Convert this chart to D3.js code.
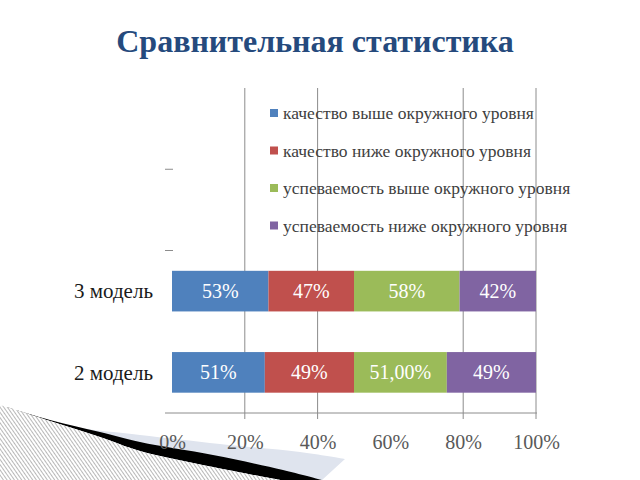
<!DOCTYPE html>
<html><head><meta charset="utf-8">
<script src="https://cdn.jsdelivr.net/npm/d3@7"></script>
<style>body{margin:0;background:#fff}svg{display:block}</style>
</head><body>
<svg id="chart" width="640" height="480"></svg>
<script>
const title = "Сравнительная статистика";
const categories = ["3 модель", "2 модель"];
const emptyCategories = ["", " "];
const seriesNames = ["качество выше окружного уровня", "качество ниже окружного уровня", "успеваемость выше окружного уровня", "успеваемость ниже окружного уровня"];
const qualityAbove = [53, 51];
const qualityBelow = [47, 49];
const progressAbove = [58, 51];
const progressBelow = [42, 49];
const dataLabels = [["53%", "51%"], ["47%", "49%"], ["58%", "51,00%"], ["42%", "49%"]];
const gridTicks = [0.2, 0.4, 0.8, 1.0];
const tickLabels = [0, 0.2, 0.4, 0.6, 0.8, 1.0];
const colors = ["#4F81BD", "#C0504D", "#9BBB59", "#8064A2"];

const seriesValues = [qualityAbove, qualityBelow, progressAbove, progressBelow];
const keys = ["s0", "s1", "s2", "s3"];
const rows = categories.map((c, i) => { const r = {cat: c}; keys.forEach((k, j) => r[k] = seriesValues[j][i]); return r; });
const stacked = d3.stack().keys(keys).offset(d3.stackOffsetExpand)(rows);

const svg = d3.select("#chart");
const serif = "Liberation Serif, Times New Roman, serif";

// decorative swoosh bottom-left (slide decoration)
const pat = svg.append("defs").append("pattern").attr("id", "hatch").attr("width", 3).attr("height", 3)
  .attr("patternUnits", "userSpaceOnUse").attr("patternTransform", "rotate(-35)");
pat.append("rect").attr("width", 3).attr("height", 3).attr("fill", "#fff");
pat.append("line").attr("x1", 0.5).attr("y1", 0).attr("x2", 0.5).attr("y2", 3).attr("stroke", "#b8b8b8").attr("stroke-width", 1);
const curve = d3.line().curve(d3.curveCatmullRom);
const blackTop = [[0,405],[50,420],[100,432],[140,442],[213,455],[283,470],[322,480]];
const hatchTop = [[0,405],[50,421],[100,437],[140,451],[213,467],[280,480]];
const lightTop = [[85,429],[140,435],[220,444],[300,452],[345,459]];
svg.append("path").attr("d", curve(lightTop) + "L322,480L100,480Z").attr("fill", "#dfe4ee");
svg.append("path").attr("d", curve(blackTop) + "L" + curve(hatchTop.slice().reverse()).slice(1) + "Z").attr("fill", "#000");
svg.append("path").attr("d", curve(hatchTop) + "L0,480Z").attr("fill", "url(#hatch)");

// title
svg.append("text").attr("x", 315).attr("y", 52).attr("text-anchor", "middle")
  .style("font-family", serif).attr("font-weight", "bold").attr("font-size", 32).attr("fill", "#254a7d").text(title);

const x = d3.scaleLinear().domain([0, 1]).range([172, 536]);
const y = d3.scaleBand().domain([...emptyCategories, ...categories]).range([88, 413]).paddingInner(0.5).paddingOuter(0.25);

// gridlines
svg.append("g").selectAll("line").data(gridTicks).join("line")
  .attr("x1", d => x(d)).attr("x2", d => x(d)).attr("y1", 88).attr("y2", 419)
  .attr("stroke", "#8c8c8c").attr("stroke-width", 1);

// category boundary ticks
const step = y.step();
svg.append("g").selectAll("line").data([1, 2]).join("line")
  .attr("x1", 165).attr("x2", 173).attr("y1", d => 88 + d * step).attr("y2", d => 88 + d * step)
  .attr("stroke", "#8c8c8c").attr("stroke-width", 1);

// x axis
const xAxis = svg.append("g").attr("transform", "translate(0,413)")
  .call(d3.axisBottom(x).tickValues(tickLabels).tickFormat(d3.format(".0%")).tickSize(0).tickPadding(22));
xAxis.select(".domain").remove();
xAxis.append("line").attr("x1", 165).attr("x2", 537).attr("y1", 0).attr("y2", 0).attr("stroke", "#8c8c8c");
xAxis.selectAll("text").style("font-family", serif).attr("font-size", 20).attr("fill", "#595959").attr("dy", "0.35em").attr("y", 29);

// bars
const g = svg.append("g");
stacked.forEach((s, si) => {
  g.append("g").selectAll("rect").data(s).join("rect")
    .attr("x", d => x(d[0])).attr("width", d => x(d[1]) - x(d[0]))
    .attr("y", d => y(d.data.cat)).attr("height", y.bandwidth())
    .attr("fill", colors[si]);
  g.append("g").selectAll("text").data(s).join("text")
    .attr("x", d => (x(d[0]) + x(d[1])) / 2).attr("y", d => y(d.data.cat) + y.bandwidth() / 2)
    .attr("dy", "0.35em").attr("text-anchor", "middle")
    .style("font-family", serif).attr("font-size", 20).attr("fill", "#fff")
    .text((d, i) => dataLabels[si][i]);
});

// category labels
svg.append("g").selectAll("text").data(categories).join("text")
  .attr("x", 153).attr("y", d => y(d) + y.bandwidth() / 2).attr("dy", "0.35em").attr("text-anchor", "end")
  .style("font-family", serif).attr("font-size", 21).attr("fill", "#1a1a1a").text(d => d);

// legend
const leg = svg.append("g").selectAll("g").data(seriesNames).join("g")
  .attr("transform", (d, i) => `translate(270,${113 + i * 37.5})`);
leg.append("rect").attr("x", 0).attr("y", -4).attr("width", 8).attr("height", 8).attr("fill", (d, i) => colors[i]);
leg.append("text").attr("x", 13).attr("y", 0).attr("dy", "0.35em")
  .style("font-family", serif).attr("font-size", 17.5).attr("fill", "#404040").text(d => d);
</script>
</body></html>
